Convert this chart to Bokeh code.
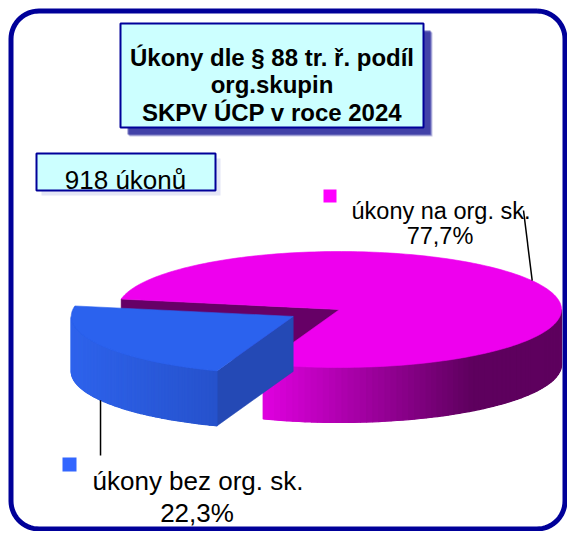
import numpy as np
from bokeh.plotting import figure
from bokeh.models import Range1d
from bokeh.core.properties import value
from bokeh.embed import file_html
from bokeh.resources import INLINE

# ---------------- data ----------------
title_lines = ["Úkony dle § 88 tr. ř. podíl", "org.skupin", "SKPV ÚCP v roce 2024"]
total_label = "918 úkonů"
categories = ["úkony na org. sk.", "úkony bez org. sk."]
shares = [77.7, 22.3]
share_labels = ["77,7%", "22,3%"]

# ---------------- style ----------------
FONT = "Liberation Sans"
top_colors = ["#EE00EE", "#2B62EE"]
cut_colors = ["#660066", "#2449B5"]
side_from = ["#E000E0", "#2E63EC"]
side_to = ["#5E005E", "#2652CC"]
marker_colors = ["#FF00FF", "#3366FF"]
explode = [0.0, 0.24]

CX, CY, A, B, D = 339.0, 309.0, 222.0, 58.0, 55.0
START = 249.9  # rotation of first slice (deg), counter-clockwise

p = figure(width=567, height=531, x_range=Range1d(0, 567), y_range=Range1d(531, 0),
           output_backend="svg", toolbar_location=None, min_border=0,
           x_axis_location=None, y_axis_location=None, outline_line_color=None)
p.grid.visible = False
p.background_fill_color = "white"
p.border_fill_color = "white"


def hex2rgb(h):
    h = h.lstrip("#")
    return np.array([int(h[i:i + 2], 16) for i in (0, 2, 4)], dtype=float)


def lerp_col(c0, c1, t):
    c = hex2rgb(c0) * (1 - t) + hex2rgb(c1) * t
    return "#%02x%02x%02x" % tuple(int(round(v)) for v in c)


def rounded_rect(x0, y0, x1, y1, r, n=16):
    xs, ys = [], []
    for (cx, cy, a0) in [(x1 - r, y0 + r, -90), (x1 - r, y1 - r, 0), (x0 + r, y1 - r, 90), (x0 + r, y0 + r, 180)]:
        for t in np.linspace(a0, a0 + 90, n):
            xs.append(cx + r * np.cos(np.radians(t)))
            ys.append(cy + r * np.sin(np.radians(t)))
    xs.append(xs[0]); ys.append(ys[0])
    return xs, ys


# frame
fx, fy = rounded_rect(10.5, 10.5, 564.5, 528.5, 28)
p.line(fx, fy, line_color="#000099", line_width=5)

# title shadow + box
for off, al in [(9, 0.25), (8, 0.45), (7, 0.6)]:
    p.quad(left=120 + off, right=423 + off, top=23 + off, bottom=127 + off,
           fill_color="#1c1c96", fill_alpha=al, line_color=None)
p.quad(left=120, right=423, top=23, bottom=127, fill_color="#CCFFFF",
       line_color="#000099", line_width=2)
p.text(x=[271.5] * 3, y=[57, 84, 112], text=title_lines, text_font=value(FONT),
       text_font_size=value("24px"), text_font_style="bold", text_align="center",
       text_baseline="alphabetic", text_color="black")

# total box
p.quad(left=41, right=220, top=158, bottom=195, fill_color="#D8DCF2", fill_alpha=0.7, line_color=None)
p.quad(left=36, right=215, top=153, bottom=190, fill_color="#CCFFFF",
       line_color="#000099", line_width=2)
p.text(x=[125], y=[179.5], text=[total_label], text_font=value(FONT),
       text_font_size=value("26px"), text_align="center", text_baseline="alphabetic",
       text_color="black")

# ---------------- 3D pie ----------------
tot = sum(shares)
angles = []
a0 = START
for s in shares:
    a1 = a0 + s / tot * 360.0
    angles.append((a0, a1))
    a0 = a1


def rim(cx, cy, th, dz=0.0):
    r = np.radians(th)
    return cx + A * np.cos(r), cy - B * np.sin(r) + dz


anchors = []
for i, (t0, t1) in enumerate(angles):
    mid = (t0 + t1) / 2
    cx = CX + explode[i] * A * np.cos(np.radians(mid))
    cy = CY - explode[i] * B * np.sin(np.radians(mid))

    # cut faces
    for th, nrm in [(t0, t0 - 90), (t1, t1 + 90)]:
        if np.sin(np.radians(nrm)) < 0:
            rx, ry = rim(cx, cy, th)
            p.patch([cx, rx, rx, cx], [cy, ry, ry + D, cy + D],
                    fill_color=cut_colors[i], line_color=cut_colors[i], line_width=0.5)

    # side face (front half)
    segs = []
    for base in (0, 360):
        lo, hi = max(t0, base + 180), min(t1, base + 360)
        if hi > lo:
            segs.append((lo, hi))
    for lo, hi in segs:
        ths = np.linspace(lo, hi, 70)
        xs_all = [rim(cx, cy, t)[0] for t in ths]
        ys_all = [rim(cx, cy, t)[1] for t in ths]
        xmin, xmax = min(xs_all), max(xs_all)
        # base face underneath (hides seams between strips)
        p.patch(xs_all + xs_all[::-1], ys_all + [y + D for y in ys_all[::-1]],
                fill_color=lerp_col(side_from[i], side_to[i], 0.5), line_color=None)
        pxs, pys, cols = [], [], []
        for k in range(len(ths) - 1):
            xa, ya = xs_all[k], ys_all[k]
            xb, yb = xs_all[k + 1], ys_all[k + 1]
            pxs.append([xa, xb, xb, xa])
            pys.append([ya, yb, yb + D, ya + D])
            xm = (xa + xb) / 2
            if i == 0:
                t = np.clip((xm - xmin) / 210.0, 0, 1)
            else:
                t = np.clip((xm - xmin) / (xmax - xmin), 0, 1)
            cols.append(lerp_col(side_from[i], side_to[i], t))
        p.patches(pxs, pys, fill_color=cols, line_color=cols, line_width=1.2)

    # top face
    ths = np.linspace(t0, t1, 200)
    tx = [cx] + [rim(cx, cy, t)[0] for t in ths]
    ty = [cy] + [rim(cx, cy, t)[1] for t in ths]
    p.patch(tx, ty, fill_color=top_colors[i], line_color=top_colors[i], line_width=0.6)

    # leader anchor at the slice's mid angle (top rim at back, bottom rim at front)
    if np.sin(np.radians(mid)) > 0:
        anchors.append(rim(cx, cy, mid))
    else:
        anchors.append(rim(cx, cy, mid, D))

# ---------------- labels ----------------
# label for slice 0 (magenta)
p.line([523, anchors[0][0]], [210, anchors[0][1]], line_color="black", line_width=1.5)
p.quad(left=323, right=336, top=189, bottom=202, fill_color=marker_colors[0], line_color=None)
p.text(x=[440.5, 439.5], y=[210, 235], text=[categories[0], share_labels[0]],
       text_font=value(FONT), text_font_size=value("23.5px"), text_align="center",
       text_baseline="alphabetic", text_color="black")

# label for slice 1 (blue)
p.line([anchors[1][0], anchors[1][0]], [anchors[1][1], 455], line_color="black", line_width=1.5)
p.quad(left=62, right=76, top=457, bottom=471, fill_color=marker_colors[1], line_color=None)
p.text(x=[197.5, 196.5], y=[480, 512], text=[categories[1], share_labels[1]],
       text_font=value(FONT), text_font_size=value("26px"), text_align="center",
       text_baseline="alphabetic", text_color="black")

open("out.html", "w").write(file_html(p, INLINE))
